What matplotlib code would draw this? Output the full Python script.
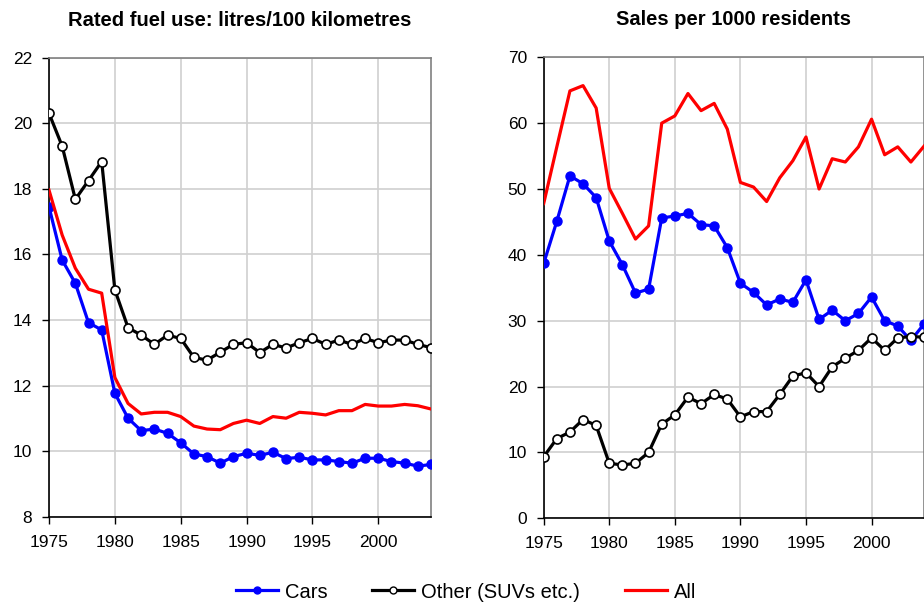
import matplotlib
matplotlib.use("Agg")
import matplotlib.pyplot as plt
from matplotlib.lines import Line2D

plt.rcParams['font.family'] = ['Liberation Sans', 'DejaVu Sans']

# ======================
# data
# ======================
years = list(range(1975, 2005))

fuel_cars = [17.45, 15.83, 15.12, 13.92, 13.70, 11.77, 11.01, 10.63, 10.68, 10.55,
             10.26, 9.92, 9.84, 9.64, 9.84, 9.94, 9.88, 9.97, 9.78, 9.82,
             9.74, 9.74, 9.69, 9.64, 9.79, 9.79, 9.69, 9.64, 9.55, 9.60]
fuel_other = [20.30, 19.30, 17.68, 18.25, 18.83, 14.92, 13.77, 13.54, 13.26, 13.54,
              13.44, 12.86, 12.78, 13.02, 13.26, 13.31, 13.01, 13.26, 13.15, 13.31,
              13.44, 13.26, 13.39, 13.26, 13.44, 13.31, 13.39, 13.39, 13.26, 13.16]
fuel_all = [17.96, 16.59, 15.58, 14.94, 14.82, 12.25, 11.46, 11.14, 11.19, 11.19,
            11.06, 10.77, 10.68, 10.66, 10.85, 10.95, 10.85, 11.06, 11.01, 11.19,
            11.16, 11.11, 11.24, 11.24, 11.43, 11.38, 11.38, 11.43, 11.39, 11.29]

sales_cars = [38.7, 45.1, 52.0, 50.8, 48.7, 42.1, 38.5, 34.2, 34.8, 45.6,
              45.9, 46.3, 44.6, 44.4, 41.1, 35.7, 34.3, 32.4, 33.3, 32.8,
              36.2, 30.2, 31.6, 30.0, 31.1, 33.6, 30.0, 29.2, 27.0, 29.5]
sales_other = [9.35, 12.1, 13.1, 15.0, 14.1, 8.35, 8.1, 8.35, 10.0, 14.3,
               15.7, 18.4, 17.4, 18.8, 18.1, 15.4, 16.2, 16.2, 18.8, 21.6,
               22.1, 20.0, 23.0, 24.3, 25.5, 27.4, 25.5, 27.4, 27.6, 27.5]
sales_all = [47.8, 56.4, 64.9, 65.7, 62.3, 50.1, 46.3, 42.4, 44.4, 60.0,
             61.1, 64.5, 61.9, 63.0, 59.1, 51.0, 50.3, 48.1, 51.7, 54.3,
             57.9, 50.0, 54.6, 54.1, 56.4, 60.6, 55.2, 56.4, 54.1, 56.5]

x_ticks = [1975, 1980, 1985, 1990, 1995, 2000]

# ======================
# figure
# ======================
fig = plt.figure(figsize=(9.24, 6.02), dpi=100)
ax1 = fig.add_axes([49 / 924, 1 - 517 / 602, (431 - 49) / 924, (517 - 57.5) / 602])
ax2 = fig.add_axes([543.7 / 924, 1 - 518.3 / 602, (924 - 543.7) / 924, (518.3 - 57.3) / 602])


def draw(ax, cars, other, total, ylim, yticks, title):
    ax.plot(years, cars, color='#0000ff', lw=2.3, marker='o', ms=6.5,
            mfc='#0000ff', mec='#0000ff', zorder=3)
    ax.plot(years, other, color='black', lw=2.3, marker='o', ms=6.5,
            mfc='white', mec='black', mew=1.2, zorder=4)
    ax.plot(years, total, color='#ff0000', lw=2.3, zorder=5)
    ax.set_xlim(1975, 2004)
    ax.set_ylim(*ylim)
    ax.set_xticks(x_ticks)
    ax.set_yticks(yticks)
    ax.grid(True, color='#d0d0d0', lw=1.2)
    ax.set_axisbelow(True)
    for s in ['top', 'right']:
        ax.spines[s].set_color('#808080')
        ax.spines[s].set_linewidth(1.2)
    for s in ['left', 'bottom']:
        ax.spines[s].set_color('black')
        ax.spines[s].set_linewidth(1.2)
    ax.tick_params(direction='out', length=5, width=1, labelsize=12.5)
    ax.tick_params(axis='x', pad=8)
    ax.tick_params(axis='y', pad=7)
    ax.set_title(title, fontsize=14.5, fontweight='bold', pad=23)


draw(ax1, fuel_cars, fuel_other, fuel_all, (8, 22), range(8, 23, 2),
     'Rated fuel use: litres/100 kilometres')
draw(ax2, sales_cars, sales_other, sales_all, (0, 70), range(0, 71, 10),
     'Sales per 1000 residents')

handles = [
    Line2D([], [], color='#0000ff', lw=2.3, marker='o', ms=5, mfc='#0000ff', mec='#0000ff'),
    Line2D([], [], color='black', lw=2.3, marker='o', ms=5, mfc='white', mec='black'),
    Line2D([], [], color='#ff0000', lw=2.3),
]
fig.legend(handles, ['Cars', 'Other (SUVs etc.)', 'All'], loc='center',
           bbox_to_anchor=(466 / 924, 1 - 592 / 602), ncol=3, frameon=False,
           fontsize=14.5, handlelength=2.1, handletextpad=0.35, columnspacing=2.2)

fig.savefig('out.png', dpi=100)
